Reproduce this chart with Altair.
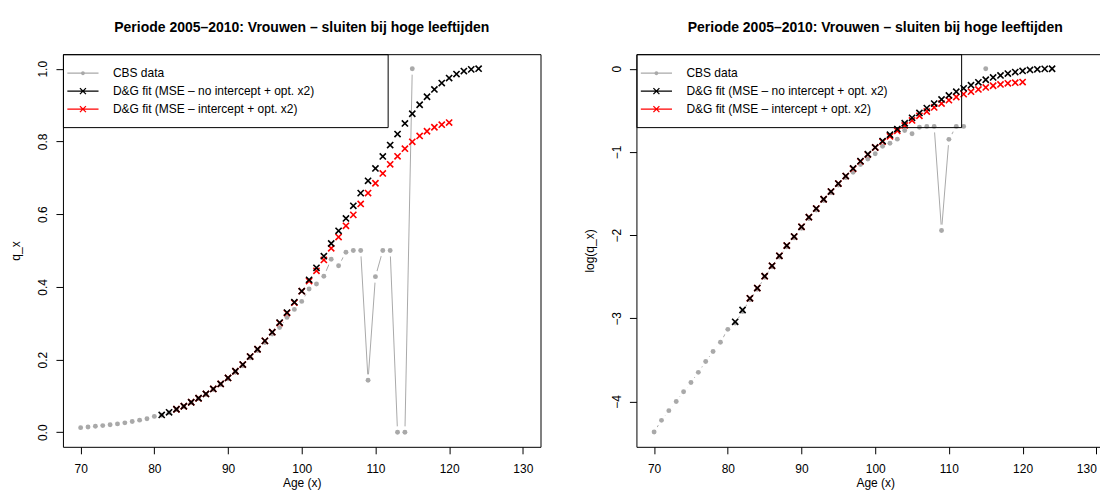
import altair as alt
import pandas as pd

TITLE = "Periode 2005–2010: Vrouwen – sluiten bij hoge leeftijden"
SERIES = ["CBS data",
          "D&G fit (MSE – no intercept + opt. x2)",
          "D&G fit (MSE – intercept + opt. x2)"]
SERIES_COLORS = ["#a9a9a9", "#000000", "#ff0000"]

# CBS observed q_x, ages 70..115
cbs_ages = list(range(70, 116))
cbs_q = [0.0127, 0.0146, 0.0164, 0.0183, 0.0206, 0.0230, 0.0260, 0.0296, 0.0334, 0.0373,
         0.0436, 0.0470, 0.0540, 0.0622, 0.0705, 0.0815, 0.0925, 0.1040, 0.1175, 0.1310,
         0.1470, 0.1650, 0.1830, 0.2050, 0.2250, 0.2470, 0.2700, 0.2880, 0.3160, 0.3380,
         0.3600, 0.3940, 0.4080, 0.4290, 0.4760, 0.4580, 0.4950, 0.5000, 0.5000, 0.1430,
         0.4280, 0.5000, 0.5000, 0.0000, 0.0000, 1.0000]

# D&G fit, no intercept, ages 81..124
fit_ages = list(range(81, 125))
fit_q = [0.0477, 0.0550, 0.0633, 0.0716, 0.0826, 0.0936, 0.1055, 0.1193, 0.1330, 0.1495,
         0.1679, 0.1862, 0.2083, 0.2284, 0.2514, 0.2752, 0.3018, 0.3294, 0.3578, 0.3881,
         0.4193, 0.4523, 0.4844, 0.5193, 0.5541, 0.5881, 0.6229, 0.6578, 0.6917, 0.7257,
         0.7587, 0.7899, 0.8202, 0.8495, 0.8761, 0.9009, 0.9229, 0.9431, 0.9606, 0.9743,
         0.9853, 0.9936, 0.9982, 1.0000]

# D&G fit, intercept, ages 83..120
fit_int_ages = list(range(83, 121))
fit_int_q = [0.0633, 0.0716, 0.0826, 0.0936, 0.1055, 0.1193, 0.1330, 0.1495, 0.1679, 0.1862,
             0.2083, 0.2284, 0.2514, 0.2752, 0.3005, 0.3280, 0.3565, 0.3880, 0.4160, 0.4440,
             0.4740, 0.5060, 0.5370, 0.5680, 0.5980, 0.6280, 0.6580, 0.6850, 0.7120, 0.7370,
             0.7590, 0.7800, 0.7990, 0.8150, 0.8280, 0.8390, 0.8460, 0.8520]

x_ticks = [70, 80, 90, 100, 110, 120, 130]
q_ticks = [0.0, 0.2, 0.4, 0.6, 0.8, 1.0]
logq_ticks = [0, -1, -2, -3, -4]

FONT = "Liberation Sans"
X_PATH = "M-1,-1L1,1M-1,1L1,-1"
# legend keys: line + marker; trailing move widens the legend frame like R's box
LEG_END = "M48.3,0"
LEG_DOT = ("M-2.6,0L2.6,0"
           "M-0.22,0A0.22,0.22 0 1,0 0.22,0A0.22,0.22 0 1,0 -0.22,0"
           "M-0.1,0A0.1,0.1 0 1,0 0.1,0A0.1,0.1 0 1,0 -0.1,0" + LEG_END)
LEG_X = "M-2.6,0L2.6,0M-0.5,-0.5L0.5,0.5M-0.5,0.5L0.5,-0.5" + LEG_END

cbs_df = pd.DataFrame({"age": cbs_ages, "q": cbs_q})
fit_df = pd.DataFrame({"age": fit_ages, "q": fit_q})
fit_int_df = pd.DataFrame({"age": fit_int_ages, "q": fit_int_q})
legend_df = pd.DataFrame({"series": SERIES})


def panel(use_log, ytitle, ydomain, yticks, yformat, xdomain, last_label_shift):
    if use_log:
        val = "datum.q > 0 ? log(datum.q) : null"
    else:
        val = "datum.q"
    x = alt.X("age:Q", scale=alt.Scale(domain=xdomain, nice=False, zero=False),
              axis=alt.Axis(values=x_ticks, title="Age (x)", format="d",
                            labelPadding=10, titlePadding=3,
                            labelOffset={"condition": {"test": "datum.value >= 130",
                                                       "value": last_label_shift},
                                         "value": 0}))
    y = alt.Y("v:Q", scale=alt.Scale(domain=ydomain, nice=False, zero=False),
              axis=alt.Axis(values=yticks, title=ytitle, format=yformat,
                            labelAngle=270, labelAlign="center", labelBaseline="bottom",
                            labelPadding=6, titlePadding=14))

    cbs_base = (alt.Chart(cbs_df)
                .transform_calculate(v=val)
                .transform_calculate(bad="isValid(datum.v) ? 0 : 1")
                .transform_window(seg="sum(bad)", sort=[alt.SortField("age")])
                .transform_filter("isValid(datum.v)"))
    line = cbs_base.mark_line(color="#a9a9a9", strokeWidth=1).encode(
        x=x, y=y, detail="seg:N")
    halo = cbs_base.mark_point(filled=True, color="white", size=145, opacity=1).encode(x=x, y=y)
    dots = cbs_base.mark_point(filled=True, color="#a9a9a9", size=24, opacity=1).encode(x=x, y=y)
    red = (alt.Chart(fit_int_df).transform_calculate(v=val)
           .mark_point(shape=X_PATH, filled=False, color="#ff0000", size=38, strokeWidth=1.6, opacity=1)
           .encode(x=x, y=y))
    black = (alt.Chart(fit_df).transform_calculate(v=val)
             .mark_point(shape=X_PATH, filled=False, color="#000000", size=38, strokeWidth=1.6, opacity=1)
             .encode(x=x, y=y))
    leg = alt.Legend(orient="none", legendX=0, legendY=0, title=None,
                     strokeColor="black", padding=12, symbolSize=144,
                     symbolStrokeWidth=1.3, symbolOffset=1, labelOffset=23, rowPadding=5,
                     labelFont=FONT, labelFontSize=12, labelColor="black", labelLimit=600)
    legend_layer = (alt.Chart(legend_df).transform_filter("false")
                    .mark_point(filled=False, strokeWidth=1.3, opacity=1)
                    .encode(color=alt.Color("series:N",
                                            scale=alt.Scale(domain=SERIES, range=SERIES_COLORS),
                                            legend=leg, sort=SERIES),
                            shape=alt.Shape("series:N",
                                            scale=alt.Scale(domain=SERIES, range=[LEG_DOT, LEG_X, LEG_X]),
                                            legend=leg, sort=SERIES)))
    return alt.layer(line, halo, dots, red, black, legend_layer).properties(
        width=478, height=393,
        title=alt.TitleParams(TITLE, font=FONT, fontSize=14, fontWeight="bold",
                              anchor="middle", offset=19, color="black"))


left = panel(False, "q_x", [-0.04, 1.04], q_ticks, ".1f", [67.6, 132.4], 0)
right = panel(True, "log(q_x)", [-4.545, 0.175], logq_ticks, "d", [67.6, 132.4], -10)

chart = (alt.hconcat(left, right, spacing=41)
         .resolve_scale(color="independent", shape="independent")
         .resolve_legend(color="independent", shape="independent")
         .properties(padding={"left": 1, "top": 12, "right": -15, "bottom": 0},
                     background="white")
         .configure_view(stroke="black", strokeWidth=1)
         .configure_axis(domain=False, grid=False, tickColor="black", tickSize=7, tickWidth=1,
                         labelColor="black", labelFont=FONT, labelFontSize=12,
                         titleColor="black", titleFont=FONT, titleFontSize=12,
                         titleFontWeight="normal"))

chart.save("out.html", embed_options={"renderer": "svg", "actions": False})
